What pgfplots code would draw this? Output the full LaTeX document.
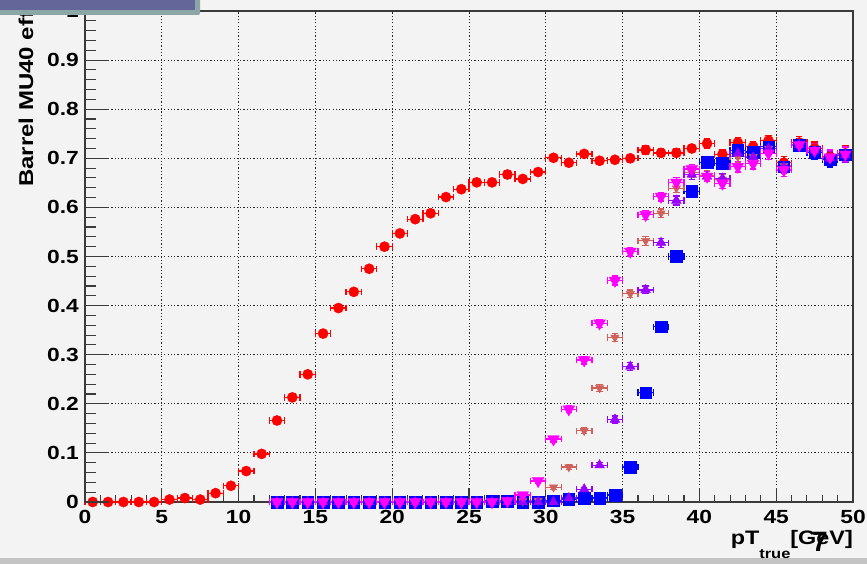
\documentclass[border=0pt]{standalone}
\usepackage{pgfplots}
\pgfplotsset{compat=1.18}
\usepackage{pgfplotstable}
\usepackage{fontspec}
\setmainfont{Liberation Sans}[FakeStretch=1.2]
\newfontfamily\plainf{Liberation Sans}
\definecolor{bgc}{HTML}{F3F3F3}
\definecolor{framec}{HTML}{3A3A3A}
\definecolor{boxc}{HTML}{646699}
\definecolor{boxb}{HTML}{8CA6A6}
\definecolor{bandc}{HTML}{C4C4C4}
\definecolor{salm}{HTML}{D0605A}
\definecolor{purp}{HTML}{9A00FF}
\definecolor{magc}{HTML}{FF00FF}
\definecolor{bluec}{HTML}{0000FF}
\definecolor{redc}{HTML}{FF0000}
\newcommand{\tickfont}{\fontsize{19}{19}\selectfont\bfseries}

\pgfplotstableread{
x y ey
0.5 0 0
1.5 0 0
2.5 0 0
3.5 0 0
4.5 0 0
5.5 0.005 0.003
6.5 0.008 0.003
7.5 0.005 0.003
8.5 0.018 0.004
9.5 0.033 0.005
10.5 0.063 0.006
11.5 0.098 0.006
12.5 0.166 0.007
13.5 0.213 0.007
14.5 0.260 0.007
15.5 0.343 0.007
16.5 0.395 0.007
17.5 0.428 0.007
18.5 0.475 0.007
19.5 0.520 0.007
20.5 0.547 0.007
21.5 0.576 0.007
22.5 0.588 0.007
23.5 0.621 0.007
24.5 0.637 0.007
25.5 0.651 0.007
26.5 0.651 0.007
27.5 0.667 0.007
28.5 0.658 0.007
29.5 0.672 0.007
30.5 0.701 0.007
31.5 0.691 0.007
32.5 0.709 0.007
33.5 0.695 0.007
34.5 0.697 0.007
35.5 0.700 0.008
36.5 0.717 0.008
37.5 0.711 0.008
38.5 0.711 0.008
39.5 0.720 0.008
40.5 0.730 0.009
41.5 0.708 0.009
42.5 0.732 0.010
43.5 0.724 0.010
44.5 0.736 0.010
45.5 0.691 0.012
46.5 0.732 0.012
47.5 0.720 0.013
48.5 0.703 0.014
49.5 0.710 0.015
}\redtab

\pgfplotstableread{
x y ey
12.5 0 0
13.5 0 0
14.5 0 0
15.5 0 0
16.5 0 0
17.5 0 0
18.5 0 0
19.5 0 0
20.5 0 0
21.5 0 0
22.5 0 0
23.5 0 0
24.5 0 0
25.5 0 0
26.5 0.002 0
27.5 0.002 0
28.5 0 0
29.5 0 0
30.5 0.003 0.002
31.5 0.006 0.002
32.5 0.008 0.003
33.5 0.008 0.003
34.5 0.014 0.004
35.5 0.071 0.006
36.5 0.223 0.008
37.5 0.357 0.008
38.5 0.500 0.009
39.5 0.633 0.009
40.5 0.692 0.010
41.5 0.690 0.010
42.5 0.716 0.011
43.5 0.713 0.011
44.5 0.724 0.012
45.5 0.683 0.013
46.5 0.727 0.013
47.5 0.712 0.014
48.5 0.697 0.015
49.5 0.707 0.015
}\bluetab

\pgfplotstableread{
x y ey
12.5 0 0
13.5 0 0
14.5 0 0
15.5 0 0
16.5 0 0
17.5 0 0
18.5 0 0
19.5 0 0
20.5 0 0
21.5 0 0
22.5 0 0
23.5 0 0
24.5 0 0
25.5 0 0
26.5 0 0
27.5 0 0
28.5 0.002 0
29.5 0.003 0.002
30.5 0.030 0.004
31.5 0.071 0.005
32.5 0.145 0.006
33.5 0.232 0.007
34.5 0.335 0.008
35.5 0.424 0.008
36.5 0.532 0.009
37.5 0.588 0.009
38.5 0.639 0.009
39.5 0.671 0.010
40.5 0.665 0.010
41.5 0.657 0.010
42.5 0.703 0.011
43.5 0.703 0.011
44.5 0.720 0.012
45.5 0.685 0.013
46.5 0.727 0.013
47.5 0.715 0.014
48.5 0.700 0.015
49.5 0.707 0.015
}\salmtab

\pgfplotstableread{
x y ey
12.5 0 0
13.5 0 0
14.5 0 0
15.5 0 0
16.5 0 0
17.5 0 0
18.5 0 0
19.5 0 0
20.5 0 0
21.5 0 0
22.5 0 0
23.5 0 0
24.5 0 0
25.5 0 0
26.5 0 0
27.5 0 0
28.5 0 0
29.5 0 0
30.5 0 0
31.5 0.008 0.003
32.5 0.026 0.004
33.5 0.075 0.005
34.5 0.168 0.007
35.5 0.276 0.008
36.5 0.432 0.008
37.5 0.528 0.009
38.5 0.614 0.009
39.5 0.667 0.010
40.5 0.663 0.010
41.5 0.659 0.010
42.5 0.710 0.011
43.5 0.702 0.011
44.5 0.720 0.012
45.5 0.683 0.013
46.5 0.727 0.013
47.5 0.716 0.014
48.5 0.700 0.015
49.5 0.707 0.015
}\purptab

\pgfplotstableread{
x y ey
12.5 0 0
13.5 0 0
14.5 0 0
15.5 0 0
16.5 0 0
17.5 0 0
18.5 0 0
19.5 0 0
20.5 0 0
21.5 0 0
22.5 0 0
23.5 0 0
24.5 0 0
25.5 0 0
26.5 0 0
27.5 0.002 0
28.5 0.014 0.003
29.5 0.043 0.005
30.5 0.128 0.006
31.5 0.189 0.007
32.5 0.289 0.008
33.5 0.364 0.008
34.5 0.451 0.009
35.5 0.510 0.009
36.5 0.585 0.009
37.5 0.622 0.009
38.5 0.651 0.010
39.5 0.678 0.010
40.5 0.663 0.010
41.5 0.649 0.010
42.5 0.683 0.011
43.5 0.689 0.011
44.5 0.710 0.012
45.5 0.676 0.013
46.5 0.727 0.013
47.5 0.716 0.014
48.5 0.702 0.015
49.5 0.708 0.015
}\magtab

\pgfplotsset{
  rootser/.style={only marks, color=#1,
    error bars/.cd, x dir=both, x fixed=0.5, y dir=both, y explicit,
    error mark=|,
    error bar style={line width=1.3pt, color=#1},
    error mark options={mark size=3.2pt, line width=1.3pt, color=#1},
    /pgfplots/.cd},
}

\begin{document}
\begin{tikzpicture}
\useasboundingbox (0pt,0pt) rectangle (867pt,564pt);
\fill[bgc] (0pt,0pt) rectangle (867pt,564pt);
\fill[bandc] (0pt,0pt) rectangle (867pt,6pt);
\begin{axis}[
  at={(85pt,62pt)}, anchor=south west, scale only axis,
  width=768pt, height=491pt,
  xmin=0, xmax=50, ymin=0, ymax=1,
  clip=false,
  axis background/.style={fill=bgc},
  xtick={0,5,10,15,20,25,30,35,40,45,50},
  xticklabels={0,5,10,15,20,25,30,35,40,45,50},
  ytick={0,0.1,0.2,0.3,0.4,0.5,0.6,0.7,0.8,0.9,1},
  yticklabels={0,0.1,0.2,0.3,0.4,0.5,0.6,0.7,0.8,0.9,1},
  minor x tick num=4, minor y tick num=4,
  tick pos=left, tick align=inside,
  major tick length=14pt, minor tick length=7pt,
  tick style={line width=1.1pt, color=framec},
  grid=major,
  major grid style={line width=1pt, color=black!85, dash pattern=on 1.2pt off 2.1pt},
  axis line style={line width=1.6pt, color=framec},
  tick label style={font=\tickfont, inner sep=0pt},
  xticklabel style={yshift=-8pt},
  yticklabel style={xshift=-6pt},
]
\addplot[rootser=redc, mark=*, mark size=5.1pt] table[x=x, y=y, y error=ey] {\redtab};
\addplot[rootser=bluec, mark=square*, mark size=5.8pt] table[x=x, y=y, y error=ey] {\bluetab};
\addplot[rootser=salm, mark=triangle*, mark size=4.8pt, mark options={rotate=180}] table[x=x, y=y, y error=ey] {\salmtab};
\addplot[rootser=purp, mark=triangle*, mark size=5.6pt] table[x=x, y=y, y error=ey] {\purptab};
\addplot[rootser=magc, mark=triangle*, mark size=6.8pt, mark options={rotate=180}] table[x=x, y=y, y error=ey] {\magtab};
\end{axis}
\begin{axis}[
  at={(85pt,62pt)}, anchor=south west, scale only axis,
  width=768pt, height=491pt,
  xmin=0, xmax=50, ymin=0, ymax=1,
  hide x axis,
  ytick={0,0.1,0.2,0.3,0.4,0.5,0.6,0.7,0.8,0.9,1},
  yticklabel={\mbox{}},
  minor y tick num=4,
  ytick pos=left, tick align=inside,
  major tick length=24pt, minor tick length=11pt,
  tick style={line width=1.1pt, color=framec},
  axis line style={line width=1.6pt, color=framec},
]
\end{axis}
\node[rotate=90, anchor=base west, inner sep=0pt, font=\fontsize{20}{20}\selectfont\bfseries] at (33pt,377pt) {Barrel MU40 eff};
\node[anchor=base east, inner sep=0pt, font=\fontsize{19.5}{20}\selectfont\bfseries] at (853pt,19pt)
  {pT\raisebox{-14pt}{\fontsize{13.7}{14}\selectfont true}[GeV]};
\node[anchor=base, inner sep=0pt, font=\plainf\fontsize{28}{28}\selectfont\bfseries] at (820pt,12pt) {7};
\fill[boxb] (0pt,549pt) -- (198pt,549pt) arc[start angle=-90, end angle=0, radius=2pt] -- (200pt,564pt) -- (0pt,564pt) -- cycle;
\fill[boxc] (0pt,554pt) rectangle (195pt,564pt);
\end{tikzpicture}
\end{document}
